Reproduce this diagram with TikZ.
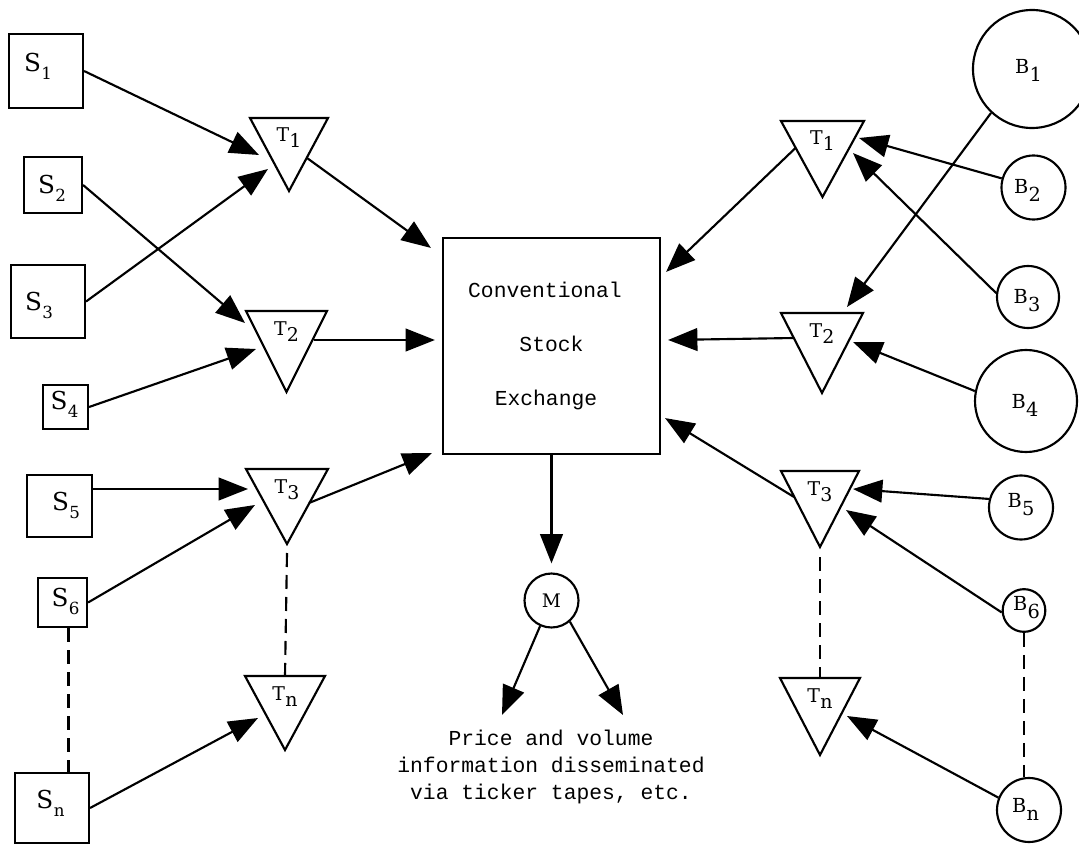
\documentclass[tikz,border=0pt]{standalone}
\usepackage{fontspec}
\newfontfamily\monofont{Liberation Mono}
\newfontfamily\labfont{DejaVu Serif}
\usetikzlibrary{arrows.meta,calc}
\newcommand\Ls[2]{#1\kern0.3pt\raisebox{-6pt}{\fontsize{12.5}{14}\selectfont #2}}
\newcommand\Lt[2]{#1\kern0.2pt\raisebox{-4.5pt}{#2}}
\newcommand\Lq[2]{#1\kern0.2pt\raisebox{-6pt}{#2}}
\newcommand\trinode[6]{%
  \draw[tri] (#2-#4,#3) -- (#2+#4,#3) -- (#2,#3+#5) -- cycle;
  \coordinate (#1-top) at (#2,#3);
  \node[tlab, anchor=base] (#1) at (#2,#3+24) {#6};
}
\tikzset{
  sbox/.style={draw, line width=1.6pt, inner sep=0pt},
  bcirc/.style={draw, circle, line width=1.6pt, inner sep=0pt},
  slab/.style={font=\labfont\fontsize{18.5}{22}\selectfont, inner sep=0pt},
  blab/.style={font=\labfont\fontsize{14.5}{18}\selectfont, inner sep=0pt},
  tlab/.style={font=\labfont\fontsize{14.2}{18}\selectfont, inner sep=0pt},
  tri/.style={draw, line width=1.6pt, line join=miter},
  arr/.style={-{Triangle[length=22pt,width=17pt]}, line width=1.6pt},
  dsh/.style={line width=1.6pt, dash pattern=on 10.5pt off 6pt},
  mono/.style={font=\monofont\fontsize{16}{40.5}\selectfont},
}
\begin{document}
\begin{tikzpicture}[x=0.75pt,y=-0.75pt]
\useasboundingbox (0,0) rectangle (1079,845);
\fill[white] (0,0) rectangle (1079,845);

% sellers
\node[sbox, minimum width=55.5pt, minimum height=55.5pt, label={[slab, shift={(-8,-5)}]center:\Ls{S}{1}}] (S1) at (46,71) {};
\node[sbox, minimum width=43.5pt, minimum height=42pt, label={[slab, shift={(-1,3.5)}]center:\Ls{S}{2}}] (S2) at (53,185) {};
\node[sbox, minimum width=55.5pt, minimum height=54.75pt, label={[slab, shift={(-9,4)}]center:\Ls{S}{3}}] (S3) at (48,301.5) {};
\node[sbox, minimum width=33.75pt, minimum height=33pt, label={[slab, shift={(-1,-3)}]center:\Ls{S}{4}}] (S4) at (65.5,407) {};
\node[sbox, minimum width=48.75pt, minimum height=46.5pt, label={[slab, shift={(6.5,-1)}]center:\Ls{S}{5}}] (S5) at (59.5,506) {};
\node[sbox, minimum width=36.75pt, minimum height=36.75pt, label={[slab, shift={(3,-1.5)}]center:\Ls{S}{6}}] (S6) at (62.5,602.5) {};
\node[sbox, minimum width=55.5pt, minimum height=52.5pt, label={[slab, shift={(-1.5,-4.5)}]center:\Ls{S}{n}}] (Sn) at (52,808) {};

% buyers
\node[bcirc, minimum size=88.5pt, label={[blab, shift={(-3.5,1)}]center:\Lq{B}{1}}] (B1) at (1032,69) {};
\node[bcirc, minimum size=48pt, label={[blab, shift={(-6,2.5)}]center:\Lq{B}{2}}] (B2) at (1033.5,187.5) {};
\node[bcirc, minimum size=46.5pt, label={[blab, shift={(-1,3.5)}]center:\Lq{B}{3}}] (B3) at (1028,297) {};
\node[bcirc, minimum size=76.5pt, label={[blab, shift={(-1,4)}]center:\Lq{B}{4}}] (B4) at (1026,401) {};
\node[bcirc, minimum size=48pt, label={[blab, shift={(0,-2.5)}]center:\Lq{B}{5}}] (B5) at (1021,507.5) {};
\node[bcirc, minimum size=32pt, label={[blab, shift={(2.5,-2.5)}]center:\Lq{B}{6}}] (B6) at (1024,610.5) {};
\node[bcirc, minimum size=48pt, label={[blab, shift={(-3.5,-1)}]center:\Lq{B}{n}}] (Bn) at (1029,810) {};

% traders (triangles)
\trinode{T1L}{289}{118}{39}{73}{\Lt{T}{1}}
\trinode{T2L}{286.5}{311}{40.5}{81}{\Lt{T}{2}}
\trinode{T3L}{287}{469}{41}{75}{\Lt{T}{3}}
\trinode{TnL}{285}{676}{40}{74}{\Lt{T}{n}}
\trinode{T1R}{822.5}{121}{41.5}{76}{\Lt{T}{1}}
\trinode{T2R}{822}{313}{41}{80}{\Lt{T}{2}}
\trinode{T3R}{820}{471}{39}{76}{\Lt{T}{3}}
\trinode{TnR}{820}{678}{40}{77}{\Lt{T}{n}}

% exchange
\node[draw, line width=1.6pt, minimum width=162.75pt, minimum height=162pt, mono, align=center] (X) at (551.5,346)
  {Conventional\rule{9.75pt}{0pt}\\Stock\\Exchange\rule{8.25pt}{0pt}};

% market information
\node[bcirc, minimum size=40.5pt, font=\labfont\fontsize{14}{17}\selectfont] (M) at (551.5,600.5) {M};
\node[font=\monofont\fontsize{16}{19.9}\selectfont, align=center, inner sep=0pt] (info) at (551,767)
  {Price and volume\\information disseminated\\via ticker tapes, etc.};

% left connectors
\draw[arr] (S1.east) -- ($(T1L-top)+(-30,37)$);
\draw[arr] (S3.east) -- ($(T1L-top)+(-21,51)$);
\draw[arr] (S2.east) -- ($(T2L-top)+(-41.5,12)$);
\draw[arr] (S4.east) -- ($(T2L-top)+(-30.5,38)$);
\draw[arr] ($(S5.east)+(0,-17)$) -- ($(T3L-top)+(-39,20)$);
\draw[arr] (S6.east) -- ($(T3L-top)+(-32,36)$);
\draw[arr] (Sn.east) -- ($(TnL-top)+(-27,42)$);
\draw[arr] ($(T1L-top)+(18,40)$) -- ($(X.north west)+(-11,11)$);
\draw[arr] ($(T2L-top)+(27.5,29)$) -- ($(X.west)+(-7,-6)$);
\draw[arr] ($(T3L-top)+(22,34)$) -- ($(X.south west)+(-10,-2)$);

% right connectors
\draw[arr] ($(T1R-top)+(-27,27)$) -- ($(X.north east)+(5,35)$);
\draw[arr] ($(T2R-top)+(-28,25)$) -- ($(X.east)+(7,-6)$);
\draw[arr] ($(T3R-top)+(-26,26)$) -- ($(X.south east)+(4,-37)$);
\draw[arr] (B2.164) -- ($(T1R-top)+(36.5,17)$);
\draw[arr] (B3.173) -- ($(T1R-top)+(30.5,32)$);
\draw[arr] (B1.227) -- ($(T2R-top)+(25,-6)$);
\draw[arr] (B4.169) -- ($(T2R-top)+(31,29)$);
\draw[arr] (B5.165) -- ($(T3R-top)+(33,18)$);
\draw[arr] (B6.185) -- ($(T3R-top)+(26,39)$);
\draw[arr] (Bn.158) -- ($(TnR-top)+(27,38)$);

% exchange to market
\draw[arr] (X.south) -- ($(M.north)+(0,-9)$);
\draw[arr] (M.246) -- ($(M)+(-49.5,114.5)$);
\draw[arr] (M.311) -- ($(M)+(71.5,114.5)$);

% dashed continuation lines
\coordinate (s6d) at ($(S6.south)+(6,0)$);
\draw[dsh] (s6d) -- (s6d |- Sn.north);
\draw[dsh] ($(T3L-top)+(0,84)$) -- (TnL-top);
\draw[dsh] ($(T3R-top)+(0,86)$) -- (TnR-top);
\coordinate (b6d) at (B6.south);
\draw[dsh] (b6d) -- (b6d |- Bn.north);
\end{tikzpicture}
\end{document}
